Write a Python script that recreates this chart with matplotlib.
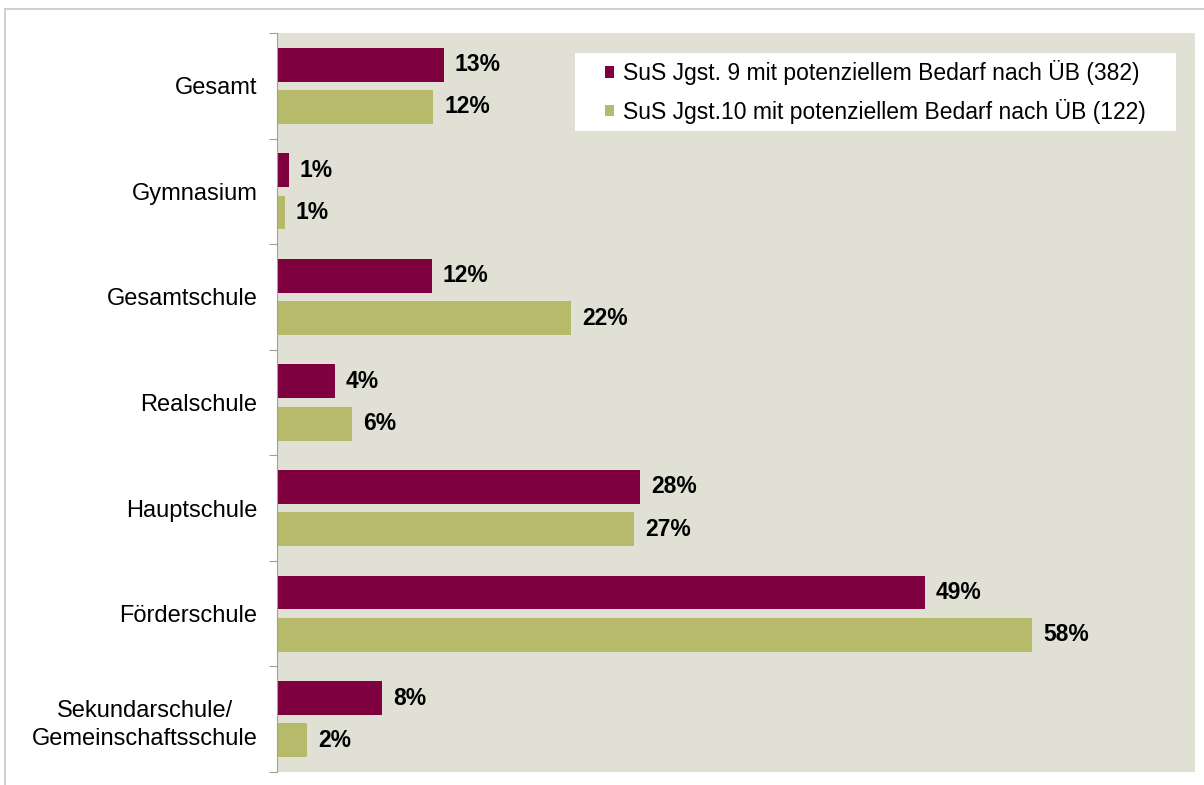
import matplotlib
matplotlib.use("Agg")
import matplotlib.pyplot as plt
from matplotlib.lines import Line2D
from matplotlib.patches import Rectangle
import numpy as np

plt.rcParams['font.family'] = ['Liberation Sans', 'DejaVu Sans']

categories = ["Gesamt", "Gymnasium", "Gesamtschule", "Realschule",
              "Hauptschule", "Förderschule", "Sekundarschule/\nGemeinschaftsschule"]
jgst9 = [12.7, 0.9, 11.8, 4.4, 27.7, 49.4, 8.0]
jgst10 = [11.9, 0.6, 22.4, 5.7, 27.2, 57.6, 2.3]
series_labels = ["SuS Jgst. 9 mit potenziellem Bedarf nach ÜB (382)",
                 "SuS Jgst.10 mit potenziellem Bedarf nach ÜB (122)"]

maroon = "#7F003F"
olive = "#B8BA6B"
bg = "#E0E1D4"

W, H = 1204, 785
fig = plt.figure(figsize=(W / 100, H / 100), dpi=100)
ax_l, ax_t, ax_r, ax_b = 277, 33, 1195, 772
ax = fig.add_axes([ax_l / W, 1 - ax_b / H, (ax_r - ax_l) / W, (ax_b - ax_t) / H])
ax.set_facecolor(bg)

y = np.arange(len(categories))
h = 0.32
b9 = ax.barh(y - 0.2, jgst9, height=h, color=maroon, label=series_labels[0])
b10 = ax.barh(y + 0.2, jgst10, height=h, color=olive, label=series_labels[1])

for bars, vals in ((b9, jgst9), (b10, jgst10)):
    for bar, v in zip(bars, vals):
        ax.annotate(f"{v:.0f}%", (bar.get_width(), bar.get_y() + bar.get_height() / 2),
                    xytext=(8, 0), textcoords="offset points", va="center", ha="left",
                    fontsize=16.5, fontweight="bold", color="black")

ax.set_xlim(0, 70)
ax.set_ylim(len(categories) - 0.5, -0.5)
ax.set_xticks([])
ax.set_yticks(np.arange(-0.5, len(categories), 1.0))
ax.set_yticklabels([])
ax.set_yticks(y, minor=True)
ax.set_yticklabels(categories, minor=True, fontsize=17, ha="right",
                   multialignment="center", linespacing=1.35)
ax.tick_params(axis="y", which="major", length=6, color="#A0A0A0", direction="out")
ax.tick_params(axis="y", which="minor", length=0, pad=14)
for s in ("top", "right", "bottom"):
    ax.spines[s].set_visible(False)
ax.spines["left"].set_color("#A0A0A0")

# legend: white panel with frameless legend inside
def ax_x(px):
    return (px - ax_l) / (ax_r - ax_l)

def ax_y(py):
    return (ax_b - py) / (ax_b - ax_t)

ax.add_patch(Rectangle((ax_x(575), ax_y(131)), ax_x(1176) - ax_x(575), ax_y(53) - ax_y(131),
                       transform=ax.transAxes, facecolor="white", edgecolor="none", zorder=4))
leg = ax.legend(loc="center left", bbox_to_anchor=(ax_x(605), ax_y(92)), borderaxespad=0,
                borderpad=0, fontsize=16.5, frameon=False, handlelength=0.4,
                handleheight=0.4, handletextpad=0.4, labelspacing=0.6)
leg.set_zorder(5)

# outer chart border
fig.add_artist(Line2D([5 / W, 5 / W], [0, 1 - 9 / H], transform=fig.transFigure,
                      color="#C8C8C8", lw=1.2))
fig.add_artist(Line2D([5 / W, 1], [1 - 9 / H, 1 - 9 / H], transform=fig.transFigure,
                      color="#C8C8C8", lw=1.2))

fig.savefig("out.png", dpi=100, facecolor="white")
